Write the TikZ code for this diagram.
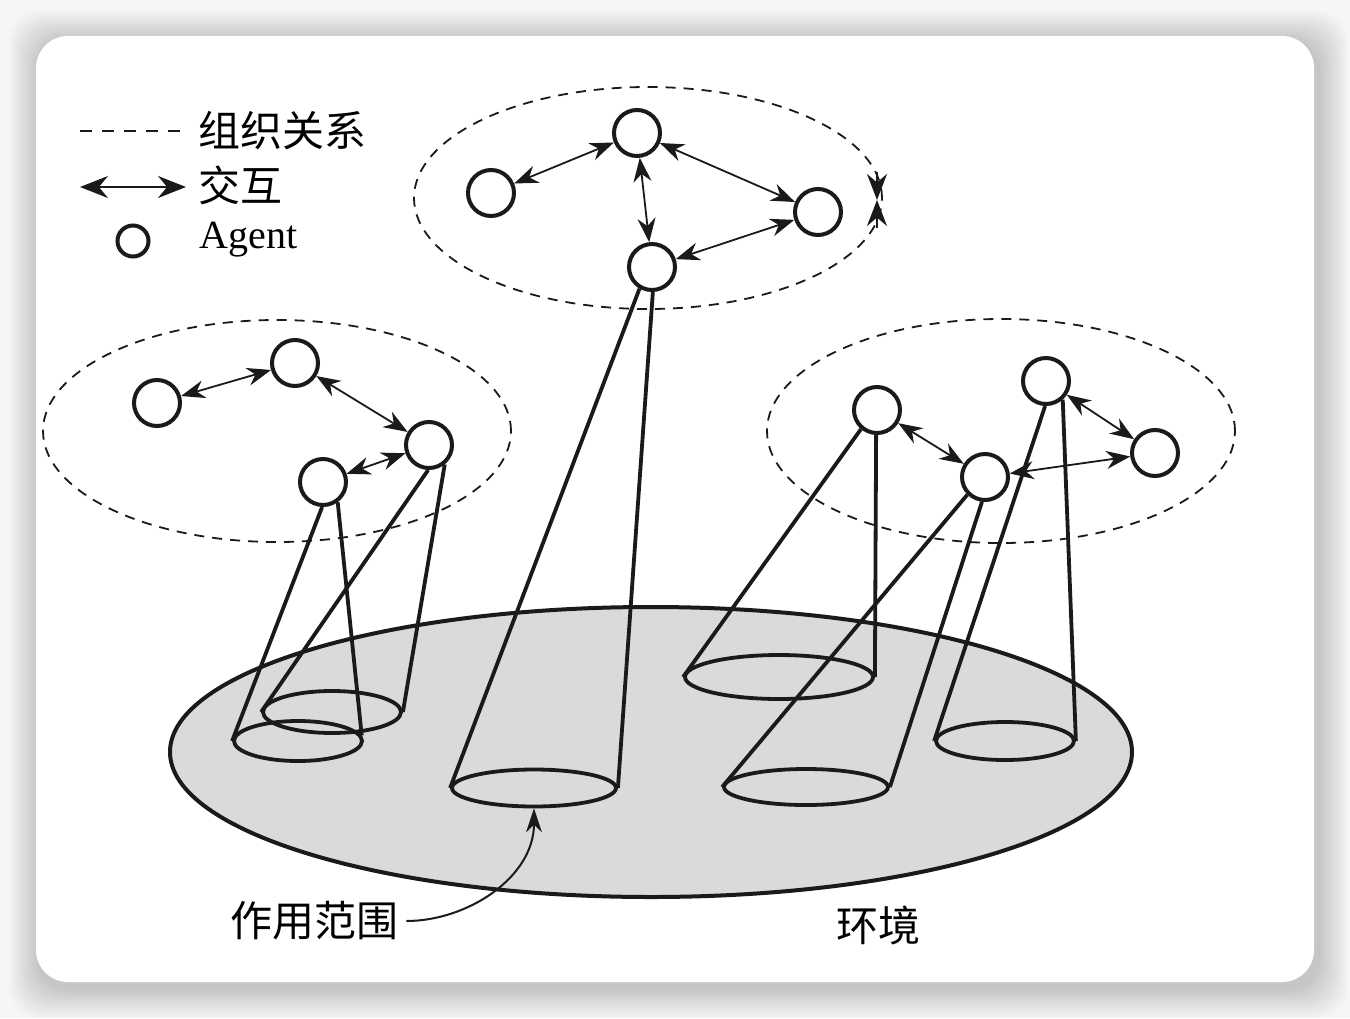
\documentclass[tikz,border=0pt]{standalone}
\usepackage{fontspec}
\newfontfamily\cjk{Noto Sans CJK SC}
\newfontfamily\agentfont{Liberation Serif}
\usetikzlibrary{arrows.meta,shapes.geometric}
\definecolor{envgray}{HTML}{DADADA}
\definecolor{pagegray}{HTML}{F6F6F6}
\definecolor{inkcol}{HTML}{1A1A1A}

\begin{document}
\begin{tikzpicture}[x=0.5pt,y=-0.5pt,
    agent/.style={circle,draw=inkcol,line width=2pt,fill=white,minimum size=23pt,inner sep=0pt},
    ground/.style={ellipse,draw=inkcol,line width=1.9pt,inner sep=0pt},
    cluster/.style={ellipse,draw=inkcol,line width=0.9pt,dash pattern=on 5pt off 4pt,inner sep=0pt,minimum width=234pt,minimum height=111pt},
    cone/.style={inkcol,line width=1.9pt},
    inter/.style={inkcol,line width=0.9pt,{Stealth[length=12pt,width=9pt]}-{Stealth[length=12pt,width=9pt]}},
    txtcn/.style={font=\cjk\fontsize{21pt}{25pt}\selectfont,inner sep=0pt}]

    % Sfondo e pannello
    \useasboundingbox (0,0) rectangle (1350,1018);
    \fill[pagegray] (0,0) rectangle (1350,1018);
    \foreach \s in {1,...,12}
        \fill[black,opacity=0.014,rounded corners=16pt] (39-2.5*\s,41-2.5*\s) rectangle (1318+2.5*\s,988+2.5*\s);
    \fill[white,rounded corners=16pt] (36,36) rectangle (1314,982);

    % Ambiente
    \node[ellipse,draw=inkcol,line width=2pt,fill=envgray,minimum width=481pt,minimum height=145pt,inner sep=0pt] (env) at (651,752) {};

    % Zone di azione sul terreno
    \node[ground,minimum width=69pt,minimum height=21pt] (gB3) at (332,712) {};
    \node[ground,minimum width=64pt,minimum height=20pt] (gB4) at (298,741) {};
    \node[ground,minimum width=82pt,minimum height=18.5pt] (gA4) at (534,788) {};
    \node[ground,minimum width=94pt,minimum height=22pt] (gC1) at (779,677) {};
    \node[ground,minimum width=82pt,minimum height=18pt] (gC3) at (806,787) {};
    \node[ground,minimum width=69pt,minimum height=19pt] (gC2) at (1005,741) {};

    % Gruppi (relazioni organizzative)
    \node[cluster] (orgA) at (648,198) {};
    \node[cluster] (orgB) at (277,431) {};
    \node[cluster,minimum height=112pt] (orgC) at (1001,431) {};

    % Agent
    \node[agent] (A1) at (491,193) {};
    \node[agent] (A2) at (637,133) {};
    \node[agent] (A3) at (818,212) {};
    \node[agent] (A4) at (652,267) {};
    \node[agent] (B1) at (157,403) {};
    \node[agent] (B2) at (295,363) {};
    \node[agent] (B3) at (429,445) {};
    \node[agent] (B4) at (323,482) {};
    \node[agent] (C1) at (877,410) {};
    \node[agent] (C2) at (1046,381) {};
    \node[agent] (C3) at (985,477) {};
    \node[agent] (C4) at (1155,453) {};

    % Coni di azione
    \draw[cone] (B3.-92) -- (gB3.west) (B3.-51) -- (gB3.east);
    \draw[cone] (B4.-92) -- (gB4.west) (B4.-54) -- (gB4.5);
    \draw[cone] (A4.-120) -- (gA4.west) (A4.-88) -- (gA4.east);
    \draw[cone] (C1.-130) -- (gC1.west) (C1.-92) -- (gC1.east);
    \draw[cone] (C3.-135) -- (gC3.west) (C3.-97) -- (gC3.east);
    \draw[cone] (C2.-92) -- (gC2.west) (C2.-48) -- (gC2.east);

    % Interazioni
    \draw[inter] (A1) -- (A2);
    \draw[inter] (A2) -- (A3);
    \draw[inter] (A2) -- (A4);
    \draw[inter] (A4) -- (A3);
    \draw[inter] (B1) -- (B2);
    \draw[inter] (B2) -- (B3);
    \draw[inter] (B4) -- (B3);
    \draw[inter] (C1) -- (C3);
    \draw[inter] (C2) -- (C4);
    \draw[inter] (C3) -- (C4);

    % Segno sul bordo del gruppo in alto
    \coordinate (mk) at (877,200);
    \coordinate (mkTop) at (877,172);
    \coordinate (mkBot) at (877,228);
    \draw[inkcol,line width=0.8pt,-{Stealth[length=13pt,width=10pt]}] (mkTop) -- (mk);
    \draw[inkcol,line width=0.8pt,-{Stealth[length=13pt,width=10pt]}] (mkBot) -- (mk);

    % Legenda
    \coordinate (lgDa) at (80,131);
    \coordinate (lgDb) at (181,131);
    \draw[inkcol,line width=1.2pt,dash pattern=on 6pt off 5pt] (lgDa) -- (lgDb);
    \node[txtcn,anchor=west] (lgOrg) at (198,131) {组织关系};
    \coordinate (lgIa) at (80,187);
    \coordinate (lgIb) at (186,187);
    \draw[inkcol,line width=1pt,{Stealth[length=14pt,width=11pt]}-{Stealth[length=14pt,width=11pt]}] (lgIa) -- (lgIb);
    \node[txtcn,anchor=west] (lgInt) at (198,185) {交互};
    \node[agent,minimum size=15.5pt] (lgAg) at (133,241) {};
    \node[font=\agentfont\fontsize{20pt}{24pt}\selectfont,anchor=west,inner sep=0pt] (lgAgT) at (199,240) {Agent};

    % Etichette in basso
    \node[txtcn] (scope) at (314,921) {作用范围};
    \node[txtcn] (envT) at (878,925) {环境};
    \draw[inkcol,line width=1pt,shorten <=4pt,-{Stealth[length=12pt,width=8pt]}] (scope.east) to[out=0,in=-90] (gA4.south);

\end{tikzpicture}
\end{document}
